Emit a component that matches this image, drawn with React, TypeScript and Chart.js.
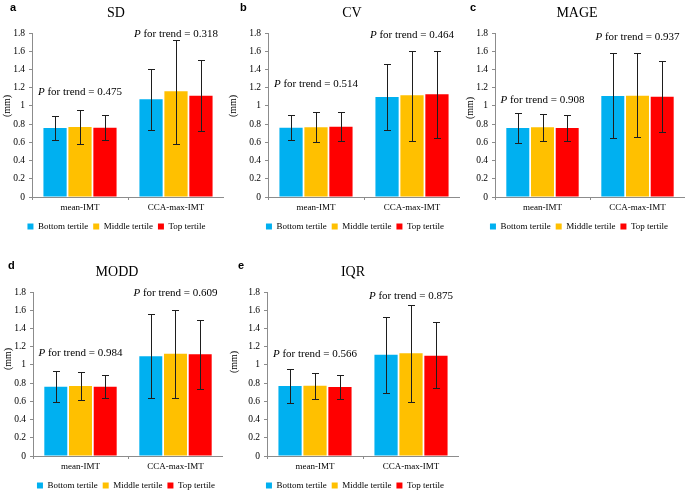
import React, { useEffect, useRef } from 'react';
import { Chart, registerables } from 'chart.js';

Chart.register(...registerables);
Chart.defaults.font.family = "'Liberation Serif', 'Times New Roman', serif";
Chart.defaults.color = '#000';

// ---------- shared ----------
const categories = ['mean-IMT', 'CCA-max-IMT'];
const seriesNames = ['Bottom tertile', 'Middle tertile', 'Top tertile'];
const seriesColors = ['#00B0F0', '#FFC000', '#FF0000'];
const yMin = 0;
const yMax = 1.8;
const yStep = 0.2;

// ---------- panel a: SD ----------  (rows = tertile, cols = category)
const sdMeans = [[0.757, 1.072], [0.768, 1.16], [0.761, 1.112]];
const sdLow = [[0.622, 0.732], [0.585, 0.585], [0.622, 0.721]];
const sdHigh = [[0.885, 1.409], [0.951, 1.727], [0.904, 1.5]];
const sdP = ['0.475', '0.318'];
const sdPLabelAt = [1.153, 1.79];

// ---------- panel b: CV ----------
const cvMeans = [[0.761, 1.098], [0.765, 1.116], [0.772, 1.127]];
const cvLow = [[0.622, 0.732], [0.6, 0.615], [0.615, 0.65]];
const cvHigh = [[0.897, 1.464], [0.93, 1.605], [0.93, 1.599]];
const cvP = ['0.514', '0.464'];
const cvPLabelAt = [1.244, 1.781];

// ---------- panel c: MAGE ----------
const mageMeans = [[0.757, 1.109], [0.765, 1.11], [0.757, 1.101]];
const mageLow = [[0.593, 0.644], [0.615, 0.662], [0.615, 0.717]];
const mageHigh = [[0.922, 1.584], [0.915, 1.577], [0.9, 1.496]];
const mageP = ['0.908', '0.937'];
const magePLabelAt = [1.068, 1.756];

// ---------- panel d: MODD ----------
const moddMeans = [[0.761, 1.094], [0.768, 1.123], [0.761, 1.116]];
const moddLow = [[0.589, 0.64], [0.615, 0.64], [0.633, 0.735]];
const moddHigh = [[0.933, 1.555], [0.922, 1.603], [0.889, 1.497]];
const moddP = ['0.984', '0.609'];
const moddPLabelAt = [1.125, 1.79];

// ---------- panel e: IQR ----------
const iqrMeans = [[0.768, 1.112], [0.772, 1.127], [0.757, 1.101]];
const iqrLow = [[0.585, 0.695], [0.629, 0.593], [0.622, 0.743]];
const iqrHigh = [[0.951, 1.529], [0.907, 1.658], [0.889, 1.467]];
const iqrP = ['0.566', '0.875'];
const iqrPLabelAt = [1.123, 1.76];

// ---------- layout (page pixels) ----------
const PLOT_H = 164;
const XAXIS_H = 20;
const LEGEND_PAD = 5;
const LEGEND_FONT = 9;
const LEGEND_H = LEGEND_FONT + LEGEND_PAD + 10;

const panels = [
  { letter: 'a', title: 'SD', means: sdMeans, low: sdLow, high: sdHigh, p: sdP, pAt: sdPLabelAt,
    x0: 0, y0: 0, plotLeft: 32, plotRight: 224, plotTop: 33, legendCenter: 116.5, titleX: 116,
    ylabelX: 7, ylabelY: 106, letterX: 10, letterBase: 10.7 },
  { letter: 'b', title: 'CV', means: cvMeans, low: cvLow, high: cvHigh, p: cvP, pAt: cvPLabelAt,
    x0: 228, y0: 0, plotLeft: 268, plotRight: 460, plotTop: 33, legendCenter: 355, titleX: 352,
    ylabelX: 233, ylabelY: 106, letterX: 240, letterBase: 10.7 },
  { letter: 'c', title: 'MAGE', means: mageMeans, low: mageLow, high: mageHigh, p: mageP, pAt: magePLabelAt,
    x0: 455, y0: 0, plotLeft: 495, plotRight: 685, plotTop: 33, legendCenter: 579, titleX: 577,
    ylabelX: 470, ylabelY: 108, letterX: 470, letterBase: 10.7 },
  { letter: 'd', title: 'MODD', means: moddMeans, low: moddLow, high: moddHigh, p: moddP, pAt: moddPLabelAt,
    x0: 0, y0: 250, plotLeft: 33, plotRight: 223, plotTop: 292, legendCenter: 126, titleX: 117,
    ylabelX: 8, ylabelY: 359, letterX: 8, letterBase: 269.3 },
  { letter: 'e', title: 'IQR', means: iqrMeans, low: iqrLow, high: iqrHigh, p: iqrP, pAt: iqrPLabelAt,
    x0: 228, y0: 250, plotLeft: 267, plotRight: 459, plotTop: 292, legendCenter: 355, titleX: 353,
    ylabelX: 234, ylabelY: 362, letterX: 238, letterBase: 269.3 },
];

const SERIF = "'Liberation Serif', 'Times New Roman', serif";

function makeDecor(pn: any) {
  return {
    id: 'decor_' + pn.letter,
    afterDatasetsDraw(chart: any) {
      const ctx = chart.ctx;
      const ys = chart.scales.y;
      const xs = chart.scales.x;
      ctx.save();
      // error bars
      ctx.strokeStyle = '#1e1e1e';
      ctx.lineWidth = 1;
      chart.data.datasets.forEach((_ds: any, di: number) => {
        const meta = chart.getDatasetMeta(di);
        meta.data.forEach((bar: any, i: number) => {
          const cx = Math.round(bar.x) + 0.5;
          const yl = Math.round(ys.getPixelForValue(pn.low[di][i])) + 0.5;
          const yh = Math.round(ys.getPixelForValue(pn.high[di][i])) + 0.5;
          ctx.beginPath();
          ctx.moveTo(cx, yl);
          ctx.lineTo(cx, yh);
          ctx.moveTo(cx - 3.5, yh);
          ctx.lineTo(cx + 3.5, yh);
          ctx.moveTo(cx - 3.5, yl);
          ctx.lineTo(cx + 3.5, yl);
          ctx.stroke();
        });
      });
      // P for trend labels
      ctx.fillStyle = '#000';
      ctx.textBaseline = 'middle';
      ctx.textAlign = 'left';
      pn.p.forEach((pv: string, i: number) => {
        const cx = xs.getPixelForValue(i);
        const cy = ys.getPixelForValue(pn.pAt[i]);
        const rest = ' for trend = ' + pv;
        ctx.font = 'italic 11px ' + SERIF;
        const w1 = ctx.measureText('P').width;
        ctx.font = '11px ' + SERIF;
        const w2 = ctx.measureText(rest).width;
        const sx = cx - (w1 + w2) / 2;
        ctx.font = 'italic 11px ' + SERIF;
        ctx.fillText('P', sx, cy);
        ctx.font = '11px ' + SERIF;
        ctx.fillText(rest, sx + w1, cy);
      });
      // title
      ctx.textAlign = 'center';
      ctx.font = '14px ' + SERIF;
      ctx.fillText(pn.title, pn.titleX - pn.x0, pn.plotTop - 20 - pn.y0);
      // panel letter
      ctx.textAlign = 'left';
      ctx.textBaseline = 'alphabetic';
      ctx.font = "bold 11px 'Liberation Sans', Arial, sans-serif";
      ctx.fillText(pn.letter, pn.letterX - pn.x0, pn.letterBase - pn.y0);
      // y axis label
      ctx.translate(pn.ylabelX - pn.x0, pn.ylabelY - pn.y0);
      ctx.rotate(-Math.PI / 2);
      ctx.textAlign = 'center';
      ctx.textBaseline = 'middle';
      ctx.font = '10px ' + SERIF;
      ctx.fillText('(mm)', 0, 0);
      ctx.restore();
    },
  };
}

function Panel({ pn }: { pn: any }) {
  const ref = useRef<HTMLCanvasElement | null>(null);
  const width = pn.plotRight - pn.x0;
  const height = pn.plotTop - pn.y0 + PLOT_H + XAXIS_H + LEGEND_H;
  const padLeft = 2 * pn.legendCenter - pn.x0 - pn.plotRight;
  const yAxisW = pn.plotLeft - pn.x0 - padLeft;

  useEffect(() => {
    if (!ref.current) return;
    const chart = new Chart(ref.current, {
      type: 'bar',
      data: {
        labels: categories,
        datasets: seriesNames.map((name, si) => ({
          label: name,
          data: pn.means[si],
          backgroundColor: seriesColors[si],
          borderWidth: 0,
          categoryPercentage: 0.78,
          barPercentage: 0.93,
        })),
      },
      options: {
        animation: false,
        responsive: false,
        maintainAspectRatio: false,
        devicePixelRatio: 1,
        layout: { padding: { left: padLeft, right: 0, top: pn.plotTop - pn.y0, bottom: 0 } },
        scales: {
          x: {
            offset: true,
            grid: { display: true, drawOnChartArea: false, drawTicks: true, tickLength: 3, color: '#8c8c8c', offset: true },
            border: { display: true, color: '#8c8c8c', width: 1 },
            ticks: { color: '#000', font: { size: 9 }, padding: 2, maxRotation: 0 },
            afterFit: (s: any) => { s.height = XAXIS_H; },
          },
          y: {
            min: yMin,
            max: yMax,
            grid: { display: true, drawOnChartArea: false, drawTicks: true, tickLength: 3, color: '#8c8c8c' },
            border: { display: true, color: '#8c8c8c', width: 1 },
            ticks: {
              stepSize: yStep,
              color: '#000',
              font: { size: 9.5 },
              padding: 4,
              callback: (v: any) => Number(v).toFixed(1).replace(/\.0$/, ''),
            },
            afterFit: (s: any) => {
              s.width = yAxisW;
              // let tick labels extend past the (narrow) axis box
              s._computeLabelArea = () => undefined;
            },
          },
        },
        plugins: {
          legend: {
            display: true,
            position: 'bottom',
            labels: { boxWidth: 6, boxHeight: 6, padding: LEGEND_PAD, color: '#000', font: { size: LEGEND_FONT } },
          },
          title: { display: false },
          tooltip: { enabled: false },
        },
      },
      plugins: [makeDecor(pn)],
    } as any);
    return () => chart.destroy();
  }, []);

  return (
    <canvas
      ref={ref}
      width={width}
      height={height}
      style={{ position: 'absolute', left: pn.x0, top: pn.y0, width, height }}
    />
  );
}

export default function App() {
  return (
    <div style={{ position: 'absolute', left: 0, top: 0, width: 685, height: 491, overflow: 'hidden', background: '#fff' }}>
      {panels.map((pn) => (
        <Panel key={pn.letter} pn={pn} />
      ))}
    </div>
  );
}
